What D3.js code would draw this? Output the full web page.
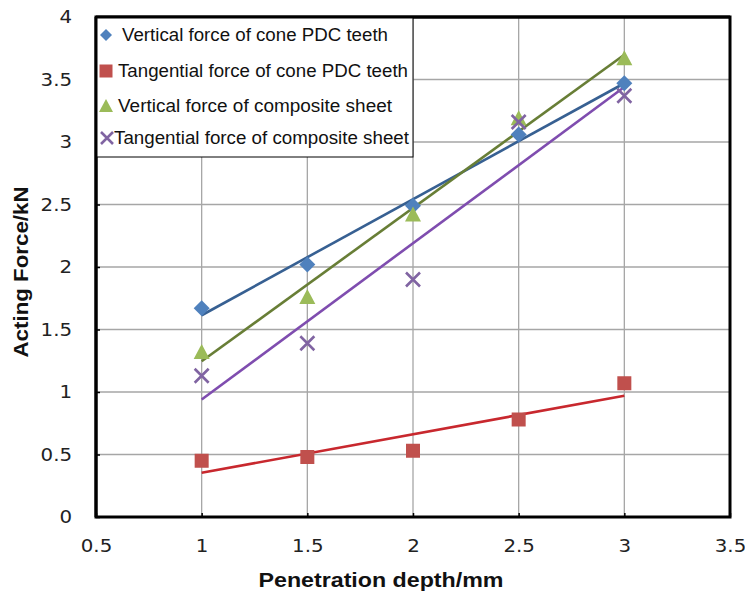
<!DOCTYPE html>
<html><head><meta charset="utf-8">
<script src="https://cdn.jsdelivr.net/npm/d3@7"></script>
<style>body{margin:0;background:#fff}</style>
</head><body>
<svg id="c" width="745" height="592"></svg>
<script>
const depths = [1, 1.5, 2, 2.5, 3];
const verticalCone = [1.67, 2.02, 2.49, 3.06, 3.47];
const tangentialCone = [0.45, 0.48, 0.53, 0.78, 1.07];
const verticalComposite = [1.32, 1.76, 2.42, 3.19, 3.67];
const tangentialComposite = [1.13, 1.39, 1.90, 3.16, 3.37];
const seriesNames = ["Vertical force of cone PDC teeth","Tangential force of cone PDC teeth","Vertical force of composite sheet","Tangential force of composite sheet"];
const xTicks = [0.5,1,1.5,2,2.5,3,3.5];
const yTicks = [0,0.5,1,1.5,2,2.5,3,3.5,4];

const series = [
  {name: seriesNames[0], values: verticalCone, marker: "diamond", fill: "#4F81BD", line: "#376092"},
  {name: seriesNames[1], values: tangentialCone, marker: "square", fill: "#C0504D", line: "#C8282E"},
  {name: seriesNames[2], values: verticalComposite, marker: "triangle", fill: "#9BBB59", line: "#687E36"},
  {name: seriesNames[3], values: tangentialComposite, marker: "x", fill: "#8064A2", line: "#7F4DAF"}
];

const svg = d3.select("#c");
const L=96, R=730, T=17, B=517;
const x = d3.scaleLinear().domain([0.5,3.5]).range([L,R]);
const y = d3.scaleLinear().domain([0,4]).range([B,T]);
const SX = 1.1;

// gridlines
const g = svg.append("g");
g.selectAll(".gx").data(xTicks.slice(1,-1)).enter().append("line")
  .attr("x1",d=>x(d)).attr("x2",d=>x(d)).attr("y1",T).attr("y2",B)
  .attr("stroke","#a6a6a6").attr("stroke-width",1.3);
g.selectAll(".gy").data(yTicks.slice(1,-1)).enter().append("line")
  .attr("y1",d=>y(d)).attr("y2",d=>y(d)).attr("x1",L).attr("x2",R)
  .attr("stroke","#a6a6a6").attr("stroke-width",1.3);

// axes
const xAxis = d3.axisBottom(x).tickValues(xTicks).tickSize(-4).tickPadding(22).tickFormat(d3.format("~g"));
const yAxis = d3.axisLeft(y).tickValues(yTicks).tickSize(-4).tickPadding(24).tickFormat(d3.format("~g"));
const ax = svg.append("g").attr("transform",`translate(0,${B})`).call(xAxis);
const ay = svg.append("g").attr("transform",`translate(${L},0)`).call(yAxis);
[ax,ay].forEach(a=>{
  a.select(".domain").remove();
  a.selectAll("text").attr("font-family","DejaVu Sans, Verdana, sans-serif").attr("font-size",18).attr("fill","#222");
  a.selectAll(".tick line").attr("stroke","#000").attr("stroke-width",1.5);
});
ax.selectAll("text").attr("transform",`scale(${SX},1)`);
ay.selectAll("text").attr("x",-24/SX).attr("transform",`scale(${SX},1)`);

// trendlines (least squares from data)
function fit(xs, ys){
  const mx=d3.mean(xs), my=d3.mean(ys);
  const s=d3.sum(xs,(xi,i)=>(xi-mx)*(ys[i]-my))/d3.sum(xs,xi=>(xi-mx)*(xi-mx));
  return xi=>my+s*(xi-mx);
}
series.forEach(s=>{
  const f = fit(depths, s.values);
  const x0=d3.min(depths), x1=d3.max(depths);
  svg.append("line").attr("x1",x(x0)).attr("y1",y(f(x0))).attr("x2",x(x1)).attr("y2",y(f(x1)))
    .attr("stroke",s.line).attr("stroke-width",2.6);
});

function drawMarker(sel, type, color, cx, cy, size){
  const h=size/2;
  if(type==="diamond"){
    sel.append("path").attr("d",`M${cx},${cy-h-1}L${cx+h+1},${cy}L${cx},${cy+h+1}L${cx-h-1},${cy}Z`).attr("fill",color);
  } else if(type==="square"){
    sel.append("rect").attr("x",cx-h).attr("y",cy-h).attr("width",size).attr("height",size).attr("fill",color);
  } else if(type==="triangle"){
    sel.append("path").attr("d",`M${cx},${cy-h-1}L${cx+h+1},${cy+h}L${cx-h-1},${cy+h}Z`).attr("fill",color);
  } else {
    sel.append("path").attr("d",`M${cx-h},${cy-h}L${cx+h},${cy+h}M${cx+h},${cy-h}L${cx-h},${cy+h}`)
      .attr("stroke",color).attr("stroke-width",2.6).attr("fill","none");
  }
}
const mg = svg.append("g");
series.forEach(s=>{
  s.values.forEach((v,i)=>drawMarker(mg, s.marker, s.fill, x(depths[i]), y(v), 14));
});

// frame
svg.append("rect").attr("x",L).attr("y",T).attr("width",R-L).attr("height",B-T)
  .attr("fill","none").attr("stroke","#000").attr("stroke-width",3);

// legend
const lg = svg.append("g");
lg.append("rect").attr("x",L).attr("y",T).attr("width",413-L).attr("height",157-T)
  .attr("fill","#fff").attr("stroke","#000").attr("stroke-width",1);
const legY=[35,71,106,138], legTx=[122,118,118,114], legMx=[106,106,106,107];
const legW=[266,290,274,295];
const legSize=[10,13,12,12];
series.forEach((s,i)=>{
  drawMarker(lg, s.marker, s.fill, legMx[i], legY[i], legSize[i]);
  lg.append("text").attr("x",legTx[i]).attr("y",legY[i]).attr("dy","0.36em")
    .attr("font-family","Liberation Sans, Arial, sans-serif").attr("font-size",17.5).attr("fill","#111")
    .attr("textLength",legW[i]).attr("lengthAdjust","spacingAndGlyphs")
    .text(s.name);
});
svg.append("line").attr("x1",L).attr("x2",L).attr("y1",T).attr("y2",B).attr("stroke","#000").attr("stroke-width",3);
svg.append("line").attr("x1",L).attr("x2",R).attr("y1",T).attr("y2",T).attr("stroke","#000").attr("stroke-width",3);

// axis titles
svg.append("text").attr("x",381).attr("y",587).attr("text-anchor","middle")
  .attr("font-family","Liberation Sans, Arial, sans-serif").attr("font-weight","bold").attr("font-size",21).attr("fill","#111")
  .attr("textLength",245).attr("lengthAdjust","spacingAndGlyphs")
  .text("Penetration depth/mm");
svg.append("text").attr("transform","translate(28,272) rotate(-90)").attr("text-anchor","middle")
  .attr("font-family","Liberation Sans, Arial, sans-serif").attr("font-weight","bold").attr("font-size",21).attr("fill","#111")
  .attr("textLength",171).attr("lengthAdjust","spacingAndGlyphs")
  .text("Acting Force/kN");
</script>
</body></html>
